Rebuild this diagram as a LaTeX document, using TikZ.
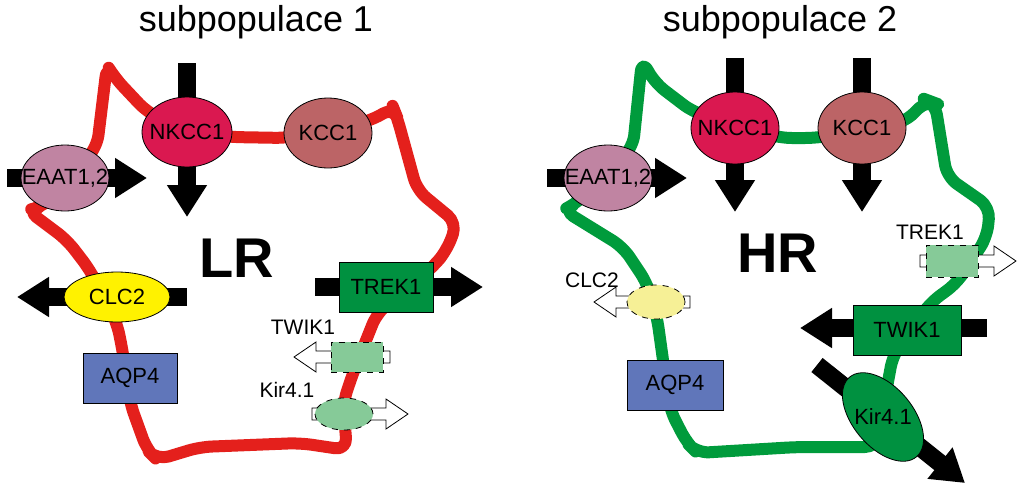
\documentclass[tikz,border=0pt]{standalone}
\usepackage{fontspec}
\setmainfont{Liberation Sans}
\usetikzlibrary{arrows.meta}
\usetikzlibrary{backgrounds}
\usetikzlibrary{shapes.geometric}
\definecolor{memred}{RGB}{228,32,28}
\definecolor{memgreen}{RGB}{0,155,60}
\definecolor{nkccfill}{RGB}{218,24,80}
\definecolor{kccfill}{RGB}{188,100,102}
\definecolor{eaatfill}{RGB}{192,132,162}
\definecolor{aqpfill}{RGB}{96,118,186}
\definecolor{trekfill}{RGB}{0,145,64}
\definecolor{palegreen}{RGB}{134,202,152}
\definecolor{paleyellow}{RGB}{246,240,150}
\tikzset{membrane/.style={line width=6pt,rounded corners=6pt,line join=round}}
\tikzset{flux/.style={black,line width=9pt,-{Triangle[length=16pt,width=19pt]}}}
\tikzset{chan/.style={ellipse,draw,thin,inner xsep=-7pt,inner ysep=0pt,font=\fontsize{11}{13}\selectfont}}
\tikzset{box/.style={rectangle,draw,thin,inner sep=0pt,font=\fontsize{11}{13}\selectfont}}
\tikzset{weak/.style={draw,thin,dashed,fill=palegreen,inner sep=0pt}}
\tikzset{lbl/.style={font=\fontsize{10.5}{12}\selectfont}}
\tikzset{hollow/.pic={
    \draw[black,fill=white,thin] (0,-6) -- (74,-6) -- (74,-15) -- (96,0) -- (74,15) -- (74,6) -- (0,6) -- cycle;
  }}
\begin{document}
\begin{tikzpicture}[x=0.5pt,y=-0.5pt]
  \useasboundingbox (0,0) rectangle (1024,499);
  % Titles
  \node[font=\fontsize{18}{20}\selectfont] (t1) at (256,22) {subpopulace 1};
  \node[font=\fontsize{18}{20}\selectfont] (t2) at (780,22) {subpopulace 2};

  % Subpopulation 1
  \node[font=\bfseries\fontsize{28}{30}\selectfont] (lr) at (237,258) {LR};
  \node[chan,fill=nkccfill,minimum width=45pt,minimum height=35pt] (nkcc1) at (187,132) {NKCC1};
  \node[chan,fill=kccfill,minimum width=44pt,minimum height=35pt] (kcc1) at (328,133) {KCC1};
  \node[chan,fill=eaatfill,minimum width=44pt,minimum height=33pt] (eaat1) at (65,178) {EAAT1,2};
  \node[chan,fill=yellow,minimum width=53pt,minimum height=25pt] (clc1) at (117,297) {CLC2};
  \node[box,fill=aqpfill,minimum width=47pt,minimum height=25pt] (aqp1) at (130,378) {AQP4};
  \node[box,fill=trekfill,minimum width=47pt,minimum height=25pt] (trek1) at (386,287) {TREK1};
  \node[weak,rectangle,minimum width=26pt,minimum height=15pt] (twik1) at (357,357) {};
  \node[lbl] (twiklbl) at (303,327) {TWIK1};
  \node[weak,ellipse,minimum width=29pt,minimum height=16pt] (kir1) at (344,414) {};
  \node[lbl] (kirlbl) at (287,390) {Kir4.1};

  % Subpopulation 2
  \node[font=\bfseries\fontsize{28}{30}\selectfont] (hr) at (778,253) {HR};
  \node[chan,fill=nkccfill,minimum width=44pt,minimum height=36pt] (nkcc2) at (735,128) {NKCC1};
  \node[chan,fill=kccfill,minimum width=44pt,minimum height=36pt] (kcc2) at (862,128) {KCC1};
  \node[chan,fill=eaatfill,minimum width=44pt,minimum height=33pt] (eaat2) at (608,178) {EAAT1,2};
  \node[weak,ellipse,fill=paleyellow,minimum width=29pt,minimum height=17pt] (clc2) at (656,302) {};
  \node[lbl] (clclbl) at (592,280) {CLC2};
  \node[box,fill=aqpfill,minimum width=48pt,minimum height=25pt] (aqp2) at (675,385) {AQP4};
  \node[weak,rectangle,minimum width=26pt,minimum height=16pt] (trek2) at (952,261) {};
  \node[lbl] (treklbl) at (930,232) {TREK1};
  \node[box,fill=trekfill,minimum width=54pt,minimum height=25pt] (twik2) at (907,330) {TWIK1};
  \node[chan,fill=trekfill,minimum width=52pt,minimum height=30pt,rotate=-50] (kir2) at (883,417) {};
  \node[font=\fontsize{11}{13}\selectfont] (kir2lbl) at (883,417) {Kir4.1};

  \begin{scope}[on background layer]
    % Membranes
    \draw[membrane,memred] (107,65) -- (115,78) -- (147,112) -- (187,132) -- (230,137) -- (287,138)
      -- (373,120) -- (393,107) -- (397,117) -- (417,190) -- (457,223) -- (447,250) -- (433,267)
      -- (377,313) -- (353,373) -- (343,403) -- (347,450) -- (300,443) -- (200,447) -- (157,460)
      -- (147,450) -- (130,403) -- (123,353) -- (117,323) -- (90,270) -- (67,240) -- (27,210)
      -- (43,207) -- (97,147) -- cycle;
    \draw[membrane,memgreen] (642,60) -- (655,83) -- (693,112) -- (780,138) -- (817,138)
      -- (905,122) -- (927,100) -- (935,103) -- (947,177) -- (990,207) -- (987,237) -- (957,283)
      -- (930,303) -- (893,355) -- (887,387) -- (877,447) -- (797,447) -- (697,453) -- (687,443)
      -- (670,410) -- (663,360) -- (657,317) -- (647,283) -- (623,247) -- (563,210) -- (577,203)
      -- (633,147) -- cycle;
    % Fluxes
    \draw[flux] (187,63) -- (187,217);
    \draw[flux] (7,178) -- (147,178);
    \draw[flux] (187,297) -- (17,297);
    \draw[flux] (315,287) -- (483,287);
    \pic at (390,357) [rotate=180] {hollow};
    \pic at (312,414) {hollow};
    \draw[flux] (735,58) -- (735,212);
    \draw[flux] (862,58) -- (862,212);
    \draw[flux] (547,178) -- (687,178);
    \draw[flux] (987,328) -- (800,328);
    \draw[flux] (817,365) -- (965,483);
    \pic at (690,302) [rotate=180] {hollow};
    \pic at (920,261) {hollow};
  \end{scope}
\end{tikzpicture}
\end{document}
